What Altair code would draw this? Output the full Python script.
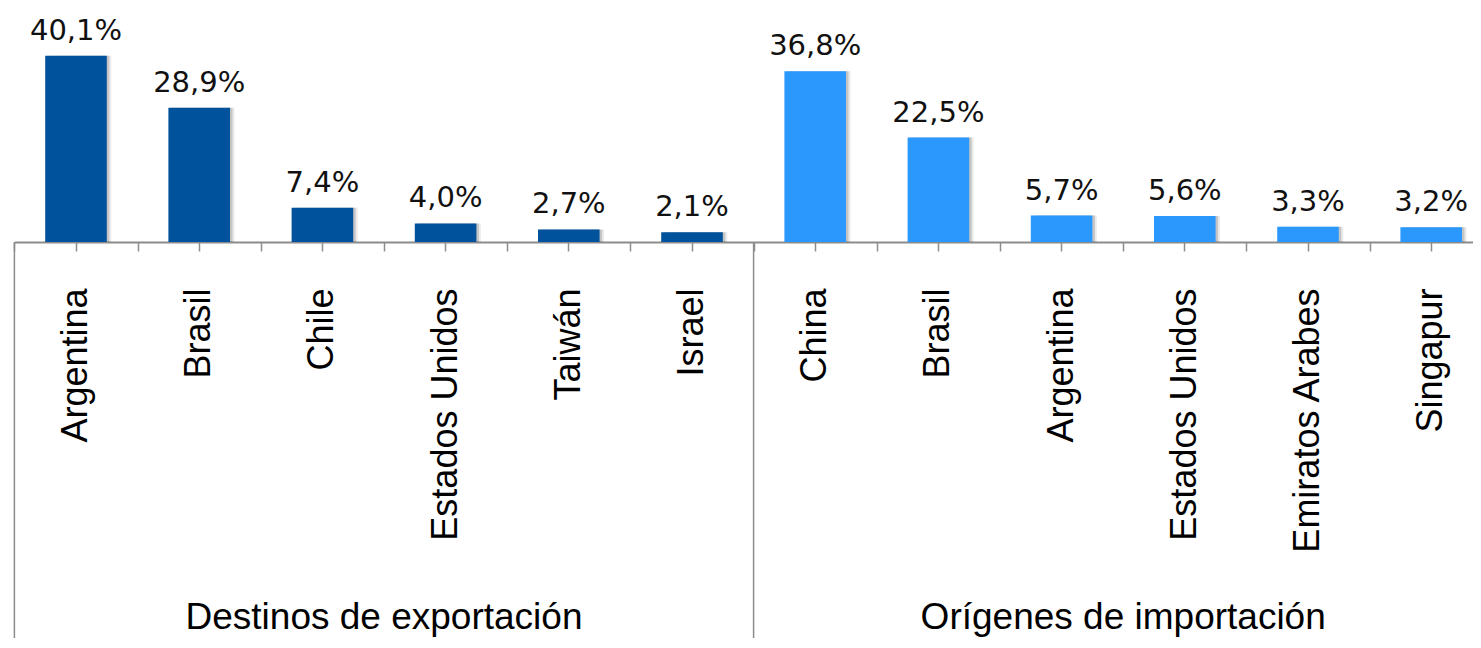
import altair as alt
import pandas as pd

groups = ["Destinos de exportación", "Orígenes de importación"]
export_countries = ["Argentina", "Brasil", "Chile", "Estados Unidos", "Taiwán", "Israel"]
export_values = [40.1, 28.9, 7.4, 4.0, 2.7, 2.1]
import_countries = ["China", "Brasil", "Argentina", "Estados Unidos", "Emiratos Arabes", "Singapur"]
import_values = [36.8, 22.5, 5.7, 5.6, 3.3, 3.2]
colors = ["#00529C", "#2B98FE"]

rows = []
for g, cs, vs in [(groups[0], export_countries, export_values),
                  (groups[1], import_countries, import_values)]:
    for c, v in zip(cs, vs):
        rows.append({"group": g, "country": c, "value": v, "key": g + "|" + c})
df = pd.DataFrame(rows)
keys = list(df["key"])

# group separators (first key of each group) and group-label anchors (middle of group)
sep_df = pd.DataFrame({"key": [keys[0], keys[6]]})
lab_df = pd.DataFrame({"key": [keys[3], keys[9]], "label": groups})

xscale = alt.Scale(domain=keys, range=[6.4, 1484.8], paddingInner=0, paddingOuter=0)
yscale = alt.Scale(domain=[0, 50.4])
axis_col = "#8c8c8c"

base = alt.Chart(df)

shadow1 = base.mark_bar(color="#000000", opacity=0.16, xOffset=2.5, width=alt.RelativeBandSize(0.5)).encode(
    x=alt.X("key:N", scale=xscale, axis=None),
    y=alt.Y("value:Q", scale=yscale, axis=None),
)
shadow2 = base.mark_bar(color="#000000", opacity=0.08, xOffset=4.5, width=alt.RelativeBandSize(0.5)).encode(
    x=alt.X("key:N", scale=xscale, axis=None),
    y=alt.Y("value:Q", scale=yscale, axis=None),
)

bars = base.mark_bar(width=alt.RelativeBandSize(0.5)).encode(
    x=alt.X("key:N", scale=xscale, title=None,
            axis=alt.Axis(labelExpr="split(datum.label, '|')[1]", labelAngle=-90,
                          labelFont="Liberation Sans", labelFontSize=36, labelColor="#000000",
                          labelPadding=37, labelLimit=600, tickSize=9, tickWidth=1.5,
                          tickColor=axis_col, domainColor=axis_col, domainWidth=2,
                          orient="bottom", grid=False)),
    y=alt.Y("value:Q", scale=yscale, axis=None),
    color=alt.Color("group:N", scale=alt.Scale(domain=groups, range=colors), legend=None),
)

texts = base.transform_calculate(
    txt="replace(format(datum.value, '.1f'), '.', ',') + '%'"
).mark_text(font="DejaVu Sans", fontSize=29, color="#111111", baseline="alphabetic", dy=-16).encode(
    x=alt.X("key:N", scale=xscale, axis=None),
    y=alt.Y("value:Q", scale=yscale, axis=None),
    text="txt:N",
)

seps = alt.Chart(sep_df).mark_rule(color=axis_col, strokeWidth=1.5).encode(
    x=alt.X("key:N", scale=xscale, bandPosition=0, title=None,
            axis=alt.Axis(tickBand="extent", labels=False, domain=False, tickSize=9,
                          tickWidth=1.5, tickColor=axis_col, orient="bottom", grid=False)),
    y=alt.datum(0, scale=yscale),
    y2=alt.value(630),
)

glabels = alt.Chart(lab_df).mark_text(font="Liberation Sans", fontSize=37, color="#000000",
                                      baseline="alphabetic", align="center").encode(
    x=alt.X("key:N", scale=xscale, bandPosition=0, axis=None),
    y=alt.value(621),
    text="label:N",
)

chart = alt.layer(shadow2, shadow1, bars, texts, seps, glabels).resolve_axis(
    x="independent"
).properties(
    width=1465, height=234,
    autosize=alt.AutoSizeParams(type="none"),
    padding={"left": 0, "right": 0, "top": 0, "bottom": 396},
    background="white",
).configure_view(stroke=None)

chart.save("out.html", embed_options={"renderer": "svg", "actions": False})
